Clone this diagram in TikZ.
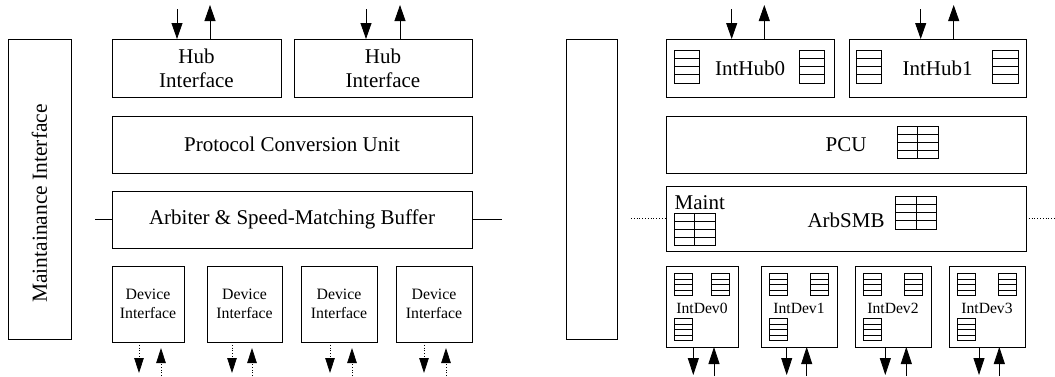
\documentclass[tikz,border=0pt]{standalone}
\usepackage{fontspec}
\setmainfont{Liberation Serif}
\usetikzlibrary{arrows.meta}

\tikzset{
  blk/.style={draw, line width=0.8pt, inner sep=0pt, outer sep=0pt,
              anchor=north west, align=center},
  bigtxt/.style={font=\fontsize{21}{24}\selectfont},
  smalltxt/.style={font=\fontsize{15.8}{18.7}\selectfont},
  devtxt/.style={font=\fontsize{15.6}{18}\selectfont, inner sep=0pt},
  hubarrow/.style={line width=0.8pt, -{Triangle[width=11pt,length=16pt]}},
  devarrowL/.style={line width=0.8pt, dotted, -{Triangle[width=9.5pt,length=15pt]}},
  devarrowR/.style={line width=0.8pt, -{Triangle[width=11pt,length=17pt]}},
  link/.style={line width=0.8pt},
  maintlink/.style={line width=0.8pt, dotted},
  fifoline/.style={line width=0.6pt}
}

% queue: outline with four rows
\newcommand\fifoicon[4]{%
  \draw[fifoline] (#1,#2) rectangle +(#3,#4)
    (#1,#2) +(0,#4/4) -- +(#3,#4/4)
    +(0,#4/2) -- +(#3,#4/2)
    +(0,3*#4/4) -- +(#3,3*#4/4);}
% table: four rows, two columns
\newcommand\tableicon[4]{%
  \fifoicon{#1}{#2}{#3}{#4}
  \draw[fifoline] (#1,#2) +(#3/2,0) -- +(#3/2,#4);}

\begin{document}
\begin{tikzpicture}[x=1pt, y=-1pt]
\useasboundingbox (0,0) rectangle (1055,376);

% ---------------- block view ----------------
\node[blk, minimum width=63pt, minimum height=300pt] (mi) at (8,39) {};
\node[rotate=90, font=\fontsize{21.5}{26}\selectfont] (mitxt) at (39.5,203.5) {Maintainance Interface};

\node[blk, bigtxt, minimum width=169pt, minimum height=58pt] (hubA) at (112,39) {Hub\\Interface};
\node[blk, bigtxt, minimum width=178pt, minimum height=58pt] (hubB) at (294,39) {Hub\\Interface};
\node[blk, bigtxt, minimum width=360pt, minimum height=57pt] (pcu) at (112,116) {Protocol Conversion Unit};
\node[blk, bigtxt, minimum width=360pt, minimum height=57pt] (arb) at (112,191) {Arbiter \& Speed-Matching Buffer};

\node[blk, smalltxt, minimum width=72pt, minimum height=76pt] (dev0) at (112,266) {Device\\Interface};
\node[blk, smalltxt, minimum width=75pt, minimum height=76pt] (dev1) at (207,266) {Device\\Interface};
\node[blk, smalltxt, minimum width=76pt, minimum height=76pt] (dev2) at (301,266) {Device\\Interface};
\node[blk, smalltxt, minimum width=76pt, minimum height=76pt] (dev3) at (396,266) {Device\\Interface};

% hub ports
\coordinate (hAin) at (177,9);   \coordinate (hAout) at (210,5);
\coordinate (hBin) at (366,9);   \coordinate (hBout) at (400,5);
\draw[hubarrow] (hAin) -- (hAin |- hubA.north);
\draw[hubarrow] (hAout |- hubA.north) -- (hAout);
\draw[hubarrow] (hBin) -- (hBin |- hubB.north);
\draw[hubarrow] (hBout |- hubB.north) -- (hBout);

% device ports
\foreach \d/\xo/\xi in {dev0/139/161, dev1/232/252, dev2/330/352, dev3/424/446}{
  \coordinate (\d out) at (\xo,373);
  \coordinate (\d in) at (\xi,376);
  \coordinate (\d tip) at (\xi,348);
  \draw[devarrowL] (\d out |- \d.south) -- (\d out);
  \draw[devarrowL] (\d in) -- (\d tip);
}

% maintenance links
\coordinate (mL) at (95,219.5);
\coordinate (mR) at (502,219.5);
\draw[link] (mL) -- (arb.west);
\draw[link] (arb.east) -- (mR);

% ---------------- implementation view ----------------
\node[blk, minimum width=51pt, minimum height=300pt] (mi2) at (566,39) {};

\node[blk, bigtxt, minimum width=168pt, minimum height=58pt] (ih0) at (666,39) {IntHub0};
\node[blk, bigtxt, minimum width=177pt, minimum height=58pt] (ih1) at (849,39) {IntHub1};
\node[blk, bigtxt, minimum width=360pt, minimum height=57pt] (pcu2) at (666,116) {PCU};
\node[blk, minimum width=360pt, minimum height=65pt] (arb2) at (666,186) {};
\node[bigtxt, inner sep=0pt] (arbtxt) at (846,220) {ArbSMB};
\node[bigtxt, inner sep=0pt, anchor=west] (mainttxt) at (674.5,202.7) {Maint};

\fifoicon{674.7}{50}{25}{33}
\fifoicon{799.3}{50}{25}{33}
\fifoicon{856}{50}{25.5}{33}
\fifoicon{992.5}{50}{25.5}{33}
\tableicon{897}{126}{41}{32}
\tableicon{895.7}{196}{41}{33}
\tableicon{674}{213}{41}{32}

\foreach \n/\x/\w in {0/666/72, 1/761/76, 2/855/76, 3/949/76}{
  \node[blk, minimum width=\w pt, minimum height=81pt] (idev\n) at (\x,266) {};
  \node[devtxt] (idevtxt\n) at (\x+\w/2,308) {IntDev\n};
  \fifoicon{\x+8.7}{273.7}{17.6}{22}
  \fifoicon{\x+\w-26.3}{273.7}{17.6}{22}
  \fifoicon{\x+8.7}{318.3}{17.6}{22}
}

% hub ports
\coordinate (h0in) at (731.7,9);  \coordinate (h0out) at (764.3,5);
\coordinate (h1in) at (920.7,9);  \coordinate (h1out) at (953.7,5);
\draw[hubarrow] (h0in) -- (h0in |- ih0.north);
\draw[hubarrow] (h0out |- ih0.north) -- (h0out);
\draw[hubarrow] (h1in) -- (h1in |- ih1.north);
\draw[hubarrow] (h1out |- ih1.north) -- (h1out);

% device ports
\foreach \d/\xo/\xi in {idev0/693.3/714, idev1/786.7/806.7, idev2/885.3/906.3, idev3/979/999.3}{
  \coordinate (\d out) at (\xo,375);
  \coordinate (\d in) at (\xi,376);
  \draw[devarrowR] (\d out |- \d.south) -- (\d out);
  \draw[devarrowR] (\d in) -- (\d in |- \d.south);
}

% maintenance links
\coordinate (mL2) at (631,218.5);
\coordinate (mR2) at (1055,218.5);
\draw[maintlink] (mL2) -- (arb2.west);
\draw[maintlink] (arb2.east) -- (mR2);
\end{tikzpicture}
\end{document}
